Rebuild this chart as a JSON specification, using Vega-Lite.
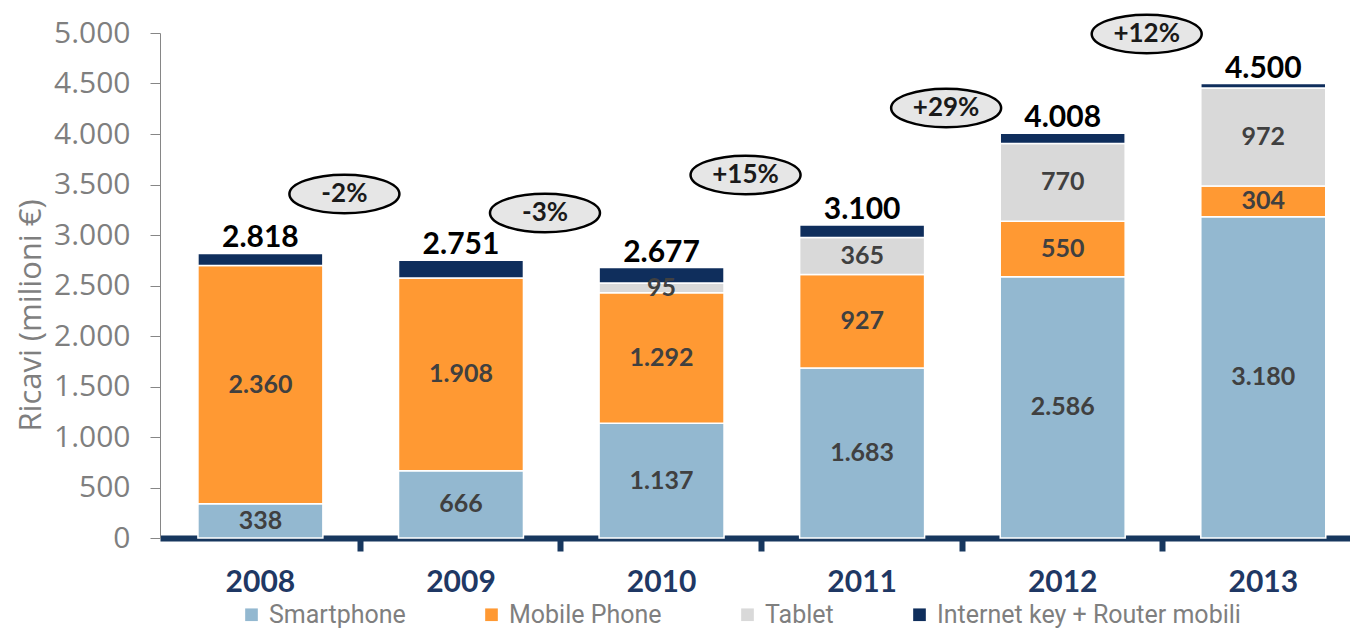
{
  "$schema": "https://vega.github.io/schema/vega-lite/v6.json",
  "width": 1190,
  "height": 505,
  "autosize": {"type": "none"},
  "padding": {"top": 33, "left": 160, "right": 0, "bottom": 94},
  "background": "white",
  "config": {
    "locale": {"number": {"decimal": ",", "thousands": ".", "grouping": [3], "currency": ["", " €"]}},
    "view": {"stroke": null},
    "font": "Open Sans"
  },
  "datasets": {
    "rev": [
      {"year": "2008", "cat": "Smartphone", "order": 1, "value": 338},
      {"year": "2008", "cat": "Mobile Phone", "order": 2, "value": 2360},
      {"year": "2008", "cat": "Internet key + Router mobili", "order": 4, "value": 120},
      {"year": "2009", "cat": "Smartphone", "order": 1, "value": 666},
      {"year": "2009", "cat": "Mobile Phone", "order": 2, "value": 1908},
      {"year": "2009", "cat": "Internet key + Router mobili", "order": 4, "value": 177},
      {"year": "2010", "cat": "Smartphone", "order": 1, "value": 1137},
      {"year": "2010", "cat": "Mobile Phone", "order": 2, "value": 1292},
      {"year": "2010", "cat": "Tablet", "order": 3, "value": 95},
      {"year": "2010", "cat": "Internet key + Router mobili", "order": 4, "value": 153},
      {"year": "2011", "cat": "Smartphone", "order": 1, "value": 1683},
      {"year": "2011", "cat": "Mobile Phone", "order": 2, "value": 927},
      {"year": "2011", "cat": "Tablet", "order": 3, "value": 365},
      {"year": "2011", "cat": "Internet key + Router mobili", "order": 4, "value": 125},
      {"year": "2012", "cat": "Smartphone", "order": 1, "value": 2586},
      {"year": "2012", "cat": "Mobile Phone", "order": 2, "value": 550},
      {"year": "2012", "cat": "Tablet", "order": 3, "value": 770},
      {"year": "2012", "cat": "Internet key + Router mobili", "order": 4, "value": 102},
      {"year": "2013", "cat": "Smartphone", "order": 1, "value": 3180},
      {"year": "2013", "cat": "Mobile Phone", "order": 2, "value": 304},
      {"year": "2013", "cat": "Tablet", "order": 3, "value": 972},
      {"year": "2013", "cat": "Internet key + Router mobili", "order": 4, "value": 44}
    ],
    "growth": [
      {"from": "2008", "label": "-2%", "pos": 3406},
      {"from": "2009", "label": "-3%", "pos": 3218},
      {"from": "2010", "label": "+15%", "pos": 3594},
      {"from": "2011", "label": "+29%", "pos": 4257},
      {"from": "2012", "label": "+12%", "pos": 4990}
    ]
  },
  "layer": [
    {
      "data": {"name": "rev"},
      "mark": {"type": "bar", "stroke": "white", "strokeWidth": 1.5},
      "encoding": {
        "x": {
          "field": "year", "type": "nominal",
          "scale": {"paddingInner": 0.377, "paddingOuter": 0.155, "align": 0.61},
          "axis": {
            "title": null, "labelAngle": 0,
            "domainColor": "#17375E", "domainWidth": 6,
            "ticks": true, "tickColor": "#17375E", "tickWidth": 6, "tickSize": 13, "bandPosition": 1.3,
            "labelFont": "Lato", "labelFontSize": 30, "labelFontWeight": "bold", "labelColor": "#1F3864", "labelPadding": 16
          }
        },
        "y": {
          "field": "value", "type": "quantitative", "stack": "zero",
          "scale": {"domain": [0, 5000], "nice": false},
          "axis": {
            "title": "Ricavi (milioni €)", "titleFont": "Open Sans", "titleFontSize": 31, "titleFontWeight": "normal", "titleColor": "#7F7F7F", "titlePadding": 6, "titleY": 282,
            "values": [0, 500, 1000, 1500, 2000, 2500, 3000, 3500, 4000, 4500, 5000], "format": ",.0f",
            "labelFont": "Open Sans", "labelFontSize": 30, "labelColor": "#7F7F7F", "labelPadding": 20,
            "tickSize": 10, "tickColor": "#868686", "domainColor": "#868686", "grid": false
          }
        },
        "color": {
          "field": "cat", "type": "nominal",
          "scale": {"domain": ["Smartphone", "Mobile Phone", "Tablet", "Internet key + Router mobili"], "range": ["#93B8D0", "#FF9933", "#D9D9D9", "#0F2E5C"]},
          "legend": {
            "orient": "none", "legendX": 79, "legendY": 569, "direction": "horizontal", "title": null,
            "symbolType": "square", "symbolSize": 160, "symbolStrokeWidth": 0,
            "labelFont": "Roboto", "labelFontSize": 25, "labelColor": "#7F7F7F", "labelLimit": 0,
            "columnPadding": 73, "labelOffset": 5
          }
        },
        "order": {"field": "order", "type": "quantitative"}
      }
    },
    {
      "data": {"name": "rev"},
      "transform": [
        {"stack": "value", "groupby": ["year"], "sort": [{"field": "order", "order": "ascending"}], "as": ["v0", "v1"]},
        {"filter": "datum.order < 4 && datum.value > 0"},
        {"calculate": "(datum.v0 + datum.v1) / 2", "as": "labelPos"}
      ],
      "mark": {"type": "text", "font": "Lato", "fontSize": 25, "fontWeight": "bold", "color": "#404040", "baseline": "middle"},
      "encoding": {
        "x": {"field": "year", "type": "nominal"},
        "y": {"field": "labelPos", "type": "quantitative"},
        "text": {"field": "value", "type": "quantitative", "format": ",.0f"}
      }
    },
    {
      "data": {"name": "rev"},
      "mark": {"type": "text", "font": "Lato", "fontSize": 30, "fontWeight": "bold", "color": "#000000", "baseline": "alphabetic", "dy": -6},
      "encoding": {
        "x": {"field": "year", "type": "nominal"},
        "y": {"aggregate": "sum", "field": "value", "type": "quantitative"},
        "text": {"aggregate": "sum", "field": "value", "type": "quantitative", "format": ",.0f"}
      }
    },
    {
      "data": {"name": "growth"},
      "mark": {"type": "point", "shape": "M-1,0A1,0.35,0,1,1,1,0A1,0.35,0,1,1,-1,0Z", "size": 12100, "filled": true, "fill": "#E6E6E6", "stroke": "#000000", "strokeWidth": 2.5, "opacity": 1, "xOffset": 84},
      "encoding": {
        "x": {"field": "from", "type": "nominal"},
        "y": {"field": "pos", "type": "quantitative"}
      }
    },
    {
      "data": {"name": "growth"},
      "mark": {"type": "text", "font": "Lato", "fontSize": 26, "fontWeight": "bold", "color": "#1A1A1A", "baseline": "middle", "xOffset": 84},
      "encoding": {
        "x": {"field": "from", "type": "nominal"},
        "y": {"field": "pos", "type": "quantitative"},
        "text": {"field": "label", "type": "nominal"}
      }
    }
  ]
}
